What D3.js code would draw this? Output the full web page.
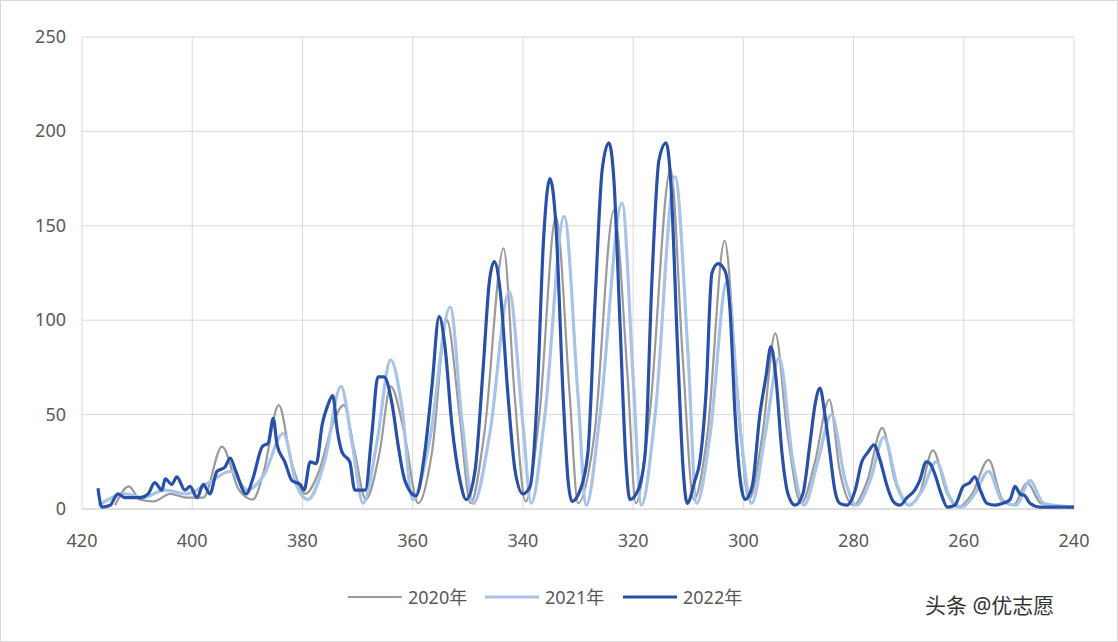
<!DOCTYPE html>
<html><head><meta charset="utf-8">
<script src="https://cdn.jsdelivr.net/npm/d3@7"></script>
<style>body{margin:0;background:#fff}text{font-family:"Noto Sans","Noto Sans CJK SC",sans-serif}</style>
</head><body><svg id="c" width="1118" height="642"></svg>
<script>
const xTicks=[420,400,380,360,340,320,300,280,260,240];
const yTicks=[0,50,100,150,200,250];
const seriesNames=["2020年","2021年","2022年"];
const s2020=[[414,2],[411.5,12],[409.5,5],[407,4],[404,8],[401,6],[398,6],[394.6,33],[391.5,10],[389,5],[387,20],[384.3,55],[382,25],[379.5,8],[377,20],[374.5,45],[372.5,55],[370.5,30],[368.5,5],[366,30],[364,65],[361.5,40],[359,3],[356.5,30],[353.8,100],[351.5,50],[349.5,3],[347,40],[343.5,138],[341.5,60],[339.5,4],[337,50],[334,155],[331.5,60],[330,3],[327,40],[323.5,158],[321,70],[319.5,3],[317,50],[313.2,180],[311,80],[309,5],[306.5,40],[303.4,142],[301,60],[299,5],[296.5,40],[294.2,93],[292,40],[289.5,3],[287,25],[284.4,58],[282.5,20],[280,2],[277.5,15],[274.8,43],[272.5,15],[270,2],[268,8],[265.6,31],[263,8],[261,1],[258.5,8],[255.5,26],[253,5],[251,2],[248.5,14],[246,3],[240,1]];
const s2021=[[417,2],[412,8],[409,6],[405,10],[401,8],[397,14],[393,20],[390,10],[387,18],[383.5,40],[381,12],[379,5],[376,25],[373,65],[371,35],[369,3],[366.5,35],[364,79],[362,55],[360,5],[357,35],[353.2,107],[351,45],[349,3],[346,40],[342.5,115],[340,45],[338.5,3],[336,50],[332.5,155],[330,60],[328.5,2],[326,50],[322,162],[320,70],[318.5,2],[316,50],[312.4,176],[310,80],[308.5,3],[306,40],[303,120],[300.5,40],[298.5,3],[296,40],[293.5,80],[291,25],[289,2],[286.5,25],[284,50],[281.5,15],[279.5,2],[277,15],[274.5,38],[272,12],[270,2],[267.5,10],[265,25],[262.5,6],[260.5,1],[258,8],[255.5,20],[253,4],[250.5,2],[248,15],[245.5,3],[240,1]];
const s2022=[[417.1,11],[416.4,1],[414.9,2],[413.5,8],[412.2,6],[409.5,6],[408,8],[406.8,14],[405.5,10],[404.9,16],[403.7,13],[402.8,17],[401.3,10],[400.4,12],[399.1,6],[398,13],[396.8,8],[395.5,20],[394.1,22],[393.1,27],[392.1,20],[390.2,8],[389,16],[387.3,33],[386.2,35],[385.3,48],[384.6,34],[383.2,25],[381.9,15],[380.4,13],[379.7,10],[378.6,25],[377.5,24],[376.4,45],[375.4,55],[374.5,60],[373.7,42],[372.8,30],[371.4,25],[370.5,10],[368.6,10],[367.4,40],[366.3,70],[365.2,70],[363.7,55],[362.7,35],[361.4,15],[359.4,7],[357.8,30],[356.5,65],[355.2,102],[354.1,85],[352.9,45],[351.4,15],[350.3,5],[348.7,20],[347.2,75],[346.1,120],[345.2,131],[344.1,115],[342.7,60],[341.4,20],[340,8],[338.7,12],[337.4,60],[336.3,140],[335.1,175],[334,150],[332.7,60],[331.8,15],[331.1,4],[329.6,10],[328.2,30],[326.9,110],[325.6,180],[324.4,194],[323.5,175],[322.4,100],[321.3,25],[320.6,5],[319.1,10],[317.8,30],[316.6,120],[315.3,185],[314,194],[313.1,170],[312,90],[310.9,20],[310.2,3],[308.8,15],[307.9,25],[306.8,60],[305.7,125],[304.6,130],[303.3,126],[302.4,105],[301.5,50],[300.4,12],[299.7,5],[298.4,12],[297,50],[295.9,70],[295,86],[294.1,70],[293,30],[291.9,8],[290.6,2],[289.2,8],[287.9,35],[287,55],[286.1,64],[285.2,50],[284.3,30],[283.4,10],[282.5,3],[281.2,2],[279.7,10],[278.5,25],[277.4,30],[276.3,34],[275.2,26],[273.9,12],[272.8,4],[271.6,2],[270.3,6],[268.9,10],[268,15],[266.8,25],[266.1,24],[265.2,18],[264.1,8],[263,1],[261.6,2],[260.1,12],[258.9,14],[258,17],[257,10],[255.8,3],[254.3,2],[252.9,3],[251.6,5],[250.7,12],[249.8,8],[248.9,7],[248,3],[246.2,1],[240,1]];
const colors=["#9a9a9a","#a8c3e8","#2850a8"];
const widths=[2.2,3.2,3.2];
const svg=d3.select("#c");
svg.append("rect").attr("x",0.5).attr("y",0.5).attr("width",1117).attr("height",641).attr("fill","none").attr("stroke","#d9d9d9");
const x=d3.scaleLinear().domain([420,240]).range([82,1074]);
const y=d3.scaleLinear().domain([0,250]).range([509,37]);
const g=svg.append("g");
g.selectAll(".vg").data(xTicks).enter().append("line").attr("x1",d=>x(d)).attr("x2",d=>x(d)).attr("y1",y(0)).attr("y2",y(250)).attr("stroke","#d9d9d9");
g.selectAll(".hg").data(yTicks).enter().append("line").attr("x1",x(420)).attr("x2",x(240)).attr("y1",d=>y(d)).attr("y2",d=>y(d)).attr("stroke",d=>d===0?"#bfbfbf":"#d9d9d9");
g.selectAll(".yl").data(yTicks).enter().append("text").attr("x",66).attr("y",d=>y(d)+6).attr("text-anchor","end").attr("font-size",18).attr("fill","#595959").text(d=>d);
g.selectAll(".xl").data(xTicks).enter().append("text").attr("x",d=>x(d)).attr("y",547).attr("text-anchor","middle").attr("font-size",18).attr("fill","#595959").text(d=>d);
const line=d3.line().x(d=>x(d[0])).y(d=>y(d[1])).curve(d3.curveMonotoneX);
[s2020,s2021,s2022].forEach((s,i)=>{
  g.append("path").datum(s).attr("d",line).attr("fill","none").attr("stroke",colors[i]).attr("stroke-width",widths[i]).attr("stroke-linejoin","round");
});
const lx=[348,485,623];
seriesNames.forEach((n,i)=>{
  g.append("line").attr("x1",lx[i]).attr("x2",lx[i]+54).attr("y1",597).attr("y2",597).attr("stroke",colors[i]).attr("stroke-width",widths[i]);
  g.append("text").attr("x",lx[i]+60).attr("y",604).attr("font-size",18).attr("fill","#595959").text(n);
});
svg.append("text").attr("x",925).attr("y",613).attr("font-size",21).attr("fill","#333").text("头条 @优志愿");
</script></body></html>
